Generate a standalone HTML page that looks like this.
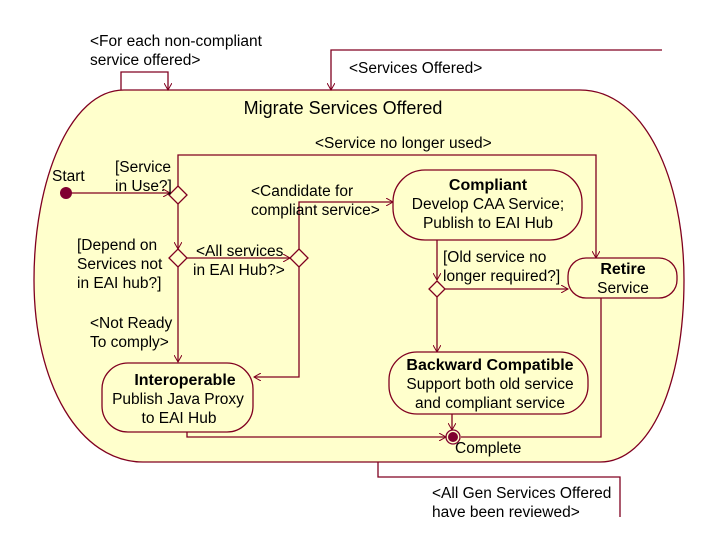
<!DOCTYPE html>
<html><head><meta charset="utf-8"><style>
html,body{margin:0;padding:0;background:#fff;}
svg{display:block;}
text{font-family:"Liberation Sans",sans-serif;font-size:15.5px;fill:#000;}
.b{font-weight:bold;font-size:16px;}
</style></head><body>
<svg width="720" height="540" viewBox="0 0 720 540" xmlns="http://www.w3.org/2000/svg">
<defs>
<marker id="a" markerWidth="8" markerHeight="8" refX="7" refY="4" orient="auto" markerUnits="userSpaceOnUse">
<path d="M0,0 L7,4 L0,8" fill="none" stroke="#800020" stroke-width="1"/>
</marker>
</defs>
<g stroke="#800020" stroke-width="1.3" fill="none">
<path d="M124,90 H580 C645,90 684,180 684,280 C684,385 650,462 600,462 H143 C80,462 34,385 34,280 C34,180 70,90 124,90 Z" fill="#ffffcc"/>
<path d="M121,90 V72 H168 V90" marker-end="url(#a)"/>
<path d="M662,50 H331 V90" marker-end="url(#a)"/>
<path d="M66,193 H170" marker-end="url(#a)"/>
<path d="M178,186 V155 H596 V258" marker-end="url(#a)"/>
<path d="M178,204 V249" marker-end="url(#a)"/>
<path d="M178,267 V362" marker-end="url(#a)"/>
<path d="M187,258 H290" marker-end="url(#a)"/>
<path d="M299,249 V202 H393" marker-end="url(#a)"/>
<path d="M299,267 V377 H254" marker-end="url(#a)"/>
<path d="M437,240 V280" marker-end="url(#a)"/>
<path d="M445,289 H568" marker-end="url(#a)"/>
<path d="M437,297 V352" marker-end="url(#a)"/>
<path d="M187,432 V437 H446" marker-end="url(#a)"/>
<path d="M452,414 V430" marker-end="url(#a)"/>
<path d="M601,298 V437 H461"/>
<path d="M378,462 V477 H620 V517"/>
<path d="M178,186 L187,195 L178,204 L169,195 Z" fill="#ffffcc"/>
<path d="M178,249 L187,258 L178,267 L169,258 Z" fill="#ffffcc"/>
<path d="M299,249 L308,258 L299,267 L290,258 Z" fill="#ffffcc"/>
<path d="M437,281 L445,289 L437,297 L429,289 Z" fill="#ffffcc"/>
<rect x="393" y="170" width="189" height="70" rx="32" ry="32" fill="#ffffcc"/>
<rect x="568" y="258" width="109" height="40" rx="18" ry="18" fill="#ffffcc"/>
<rect x="389" y="352" width="199" height="62" rx="28" ry="28" fill="#ffffcc"/>
<rect x="102" y="363" width="151" height="69" rx="26" ry="26" fill="#ffffcc"/>
</g>
<circle cx="66" cy="193" r="6" fill="#800030"/>
<circle cx="453" cy="437" r="7" fill="none" stroke="#800030" stroke-width="1.3"/>
<circle cx="453" cy="437" r="5" fill="#800030"/>
<text x="90" y="46">&lt;For each non-compliant</text>
<text x="90" y="65">service offered&gt;</text>
<text x="349" y="73">&lt;Services Offered&gt;</text>
<text x="343" y="114" text-anchor="middle" style="font-size:18px">Migrate Services Offered</text>
<text x="315" y="148">&lt;Service no longer used&gt;</text>
<text x="52" y="181">Start</text>
<text x="115" y="172">[Service</text>
<text x="115" y="191">in Use?]</text>
<text x="251" y="196">&lt;Candidate for</text>
<text x="251" y="215">compliant service&gt;</text>
<text x="77" y="250">[Depend on</text>
<text x="77" y="269">Services not</text>
<text x="77" y="288">in EAI hub?]</text>
<text x="196" y="256">&lt;All services</text>
<text x="193" y="275">in EAI Hub?&gt;</text>
<text x="443" y="262">[Old service no</text>
<text x="443" y="281">longer required?]</text>
<text x="90" y="328">&lt;Not Ready</text>
<text x="90" y="347">To comply&gt;</text>
<text x="488" y="190" text-anchor="middle" class="b">Compliant</text>
<text x="488" y="209" text-anchor="middle">Develop CAA Service;</text>
<text x="488" y="228" text-anchor="middle">Publish to EAI Hub</text>
<text x="623" y="274" text-anchor="middle" class="b">Retire</text>
<text x="623" y="293" text-anchor="middle">Service</text>
<text x="490" y="370" text-anchor="middle" class="b">Backward Compatible</text>
<text x="490" y="389" text-anchor="middle">Support both old service</text>
<text x="490" y="408" text-anchor="middle">and compliant service</text>
<text x="185" y="385" text-anchor="middle" class="b">Interoperable</text>
<text x="178" y="404" text-anchor="middle">Publish Java Proxy</text>
<text x="179" y="423" text-anchor="middle">to  EAI Hub</text>
<text x="455" y="453">Complete</text>
<text x="432" y="498">&lt;All Gen Services Offered</text>
<text x="432" y="517">have been reviewed&gt;</text>
</svg>
</body></html>
